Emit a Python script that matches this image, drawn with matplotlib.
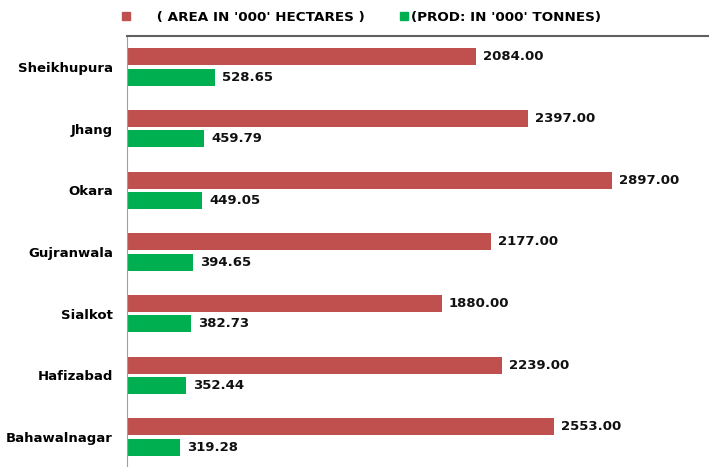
import numpy as np
import matplotlib
matplotlib.use('Agg')
import matplotlib.pyplot as plt
from matplotlib.lines import Line2D

districts = ['Sheikhupura', 'Jhang', 'Okara', 'Gujranwala', 'Sialkot',
             'Hafizabad', 'Bahawalnagar']
area = [2084.00, 2397.00, 2897.00, 2177.00, 1880.00, 2239.00, 2553.00]
prod = [528.65, 459.79, 449.05, 394.65, 382.73, 352.44, 319.28]
area_label = "( AREA IN '000' HECTARES )"
prod_label = "(PROD: IN '000' TONNES)"

red = '#C0504D'
green = '#00B050'

plt.rc('font', family='DejaVu Sans', weight='bold', size=9.5)

fig = plt.figure(figsize=(7.09, 4.67), dpi=100)
ax = fig.add_axes([127 / 709, -0.002, 1 - 127 / 709, 1 - 36 / 467 + 0.002])

y = np.arange(len(districts))
h = 0.275
off = 0.165
b1 = ax.barh(y - off, area, height=h, color=red)
b2 = ax.barh(y + off, prod, height=h, color=green)

for bars, vals in ((b1, area), (b2, prod)):
    for bar, v in zip(bars, vals):
        ax.annotate('%.2f' % v, (bar.get_width(), bar.get_y() + bar.get_height() / 2),
                    xytext=(7, 0), textcoords='offset pixels',
                    ha='left', va='center', fontsize=9.5, fontweight='bold',
                    color='#111111')

ax.set_xlim(0, 3477)
ax.set_ylim(6.5, -0.5)
ax.set_yticks(y)
ax.set_yticklabels(districts)
ax.tick_params(axis='y', length=0, pad=10)
ax.set_xticks([])
ax.spines['right'].set_visible(False)
ax.spines['bottom'].set_visible(False)
ax.spines['top'].set_color('#606060')
ax.spines['top'].set_linewidth(1.5)
ax.spines['left'].set_color('#a0a0a0')

# Legend
handles = [Line2D([], [], marker='s', ls='', color=red, markersize=6),
           Line2D([], [], marker='s', ls='', color=green, markersize=6)]
fig.legend(handles, ['     ' + area_label, prod_label], ncol=2,
           loc='center', bbox_to_anchor=(360 / 709, 1 - 17 / 467),
           frameon=False, handletextpad=0.0, columnspacing=2.4,
           handlelength=1.0, fontsize=9.7)

fig.savefig('out.png', dpi=100)
